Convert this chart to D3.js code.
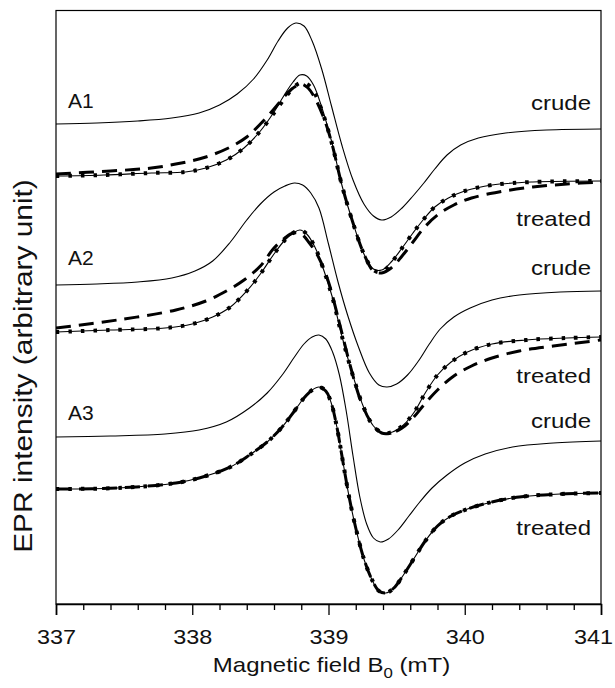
<!DOCTYPE html>
<html>
<head>
<meta charset="utf-8">
<script src="https://cdn.jsdelivr.net/npm/d3@7/dist/d3.min.js"></script>
<style>
  body { margin: 0; background: #fff; }
  text { font-family: "Liberation Sans", Arial, Helvetica, sans-serif; fill: #111; }
</style>
</head>
<body>
<svg id="chart" width="615" height="688"></svg>
<script>
// Field axis (mT)
const fieldDomain = [337, 341];
const majorTicks = [337, 338, 339, 340, 341];
const minorStep = 0.2;

// Spectra: [field (mT), intensity (arbitrary unit)]
const a1Crude = [[337.00,480],[337.30,481],[337.60,483],[337.85,486],[338.05,491],[338.20,499],[338.33,510],[338.45,525],[338.55,544],[338.63,563],[338.70,576],[338.76,581],[338.82,578],[338.88,563],[338.95,535],[339.02,499],[339.10,458],[339.18,424],[339.26,400],[339.33,388],[339.39,384],[339.46,387],[339.54,396],[339.62,408],[339.70,421],[339.78,435],[339.87,449],[339.97,459],[340.10,466],[340.30,471],[340.60,474],[341.00,475]];
const a1Treated = [[337.00,428],[337.35,429],[337.70,431],[337.95,432],[338.10,436],[338.25,444],[338.38,456],[338.50,473],[338.60,492],[338.68,510],[338.74,522],[338.79,529],[338.84,528],[338.89,519],[338.95,497],[339.02,464],[339.10,418],[339.18,381],[339.26,350],[339.33,335],[339.39,334],[339.46,342],[339.54,356],[339.62,371],[339.70,385],[339.78,397],[339.88,406],[340.00,413],[340.20,419],[340.50,422],[341.00,423]];
const a1TreatedDotted = [[337.00,428],[337.35,429],[337.70,431],[337.95,432],[338.10,436],[338.25,444],[338.38,456],[338.50,473],[338.60,491],[338.68,506],[338.74,516],[338.79,521],[338.84,520],[338.89,513],[338.95,494],[339.02,463],[339.10,418],[339.18,381],[339.26,350],[339.33,334],[339.39,332],[339.46,341],[339.54,356],[339.62,371],[339.70,385],[339.78,397],[339.88,406],[340.00,413],[340.20,419],[340.50,422],[341.00,423]];
const a1TreatedDashed = [[337.00,430],[337.40,433],[337.70,436],[337.92,441],[338.10,447],[338.28,457],[338.40,467],[338.50,480],[338.60,495],[338.68,508],[338.74,516],[338.80,520],[338.85,516],[338.90,506],[338.96,488],[339.02,463],[339.10,418],[339.18,381],[339.26,350],[339.33,333],[339.39,331],[339.46,336],[339.54,348],[339.62,362],[339.70,376],[339.80,389],[339.92,399],[340.05,406],[340.25,412],[340.50,417],[340.75,420],[341.00,422]];

const a2Crude = [[337.00,319],[337.30,320],[337.60,322],[337.85,326],[338.02,333],[338.15,343],[338.28,362],[338.40,384],[338.50,400],[338.60,412],[338.68,418],[338.75,421],[338.81,419],[338.87,411],[338.93,396],[339.00,360],[339.07,322],[339.14,289],[339.22,257],[339.30,231],[339.37,219],[339.43,217],[339.50,220],[339.58,229],[339.66,243],[339.74,260],[339.82,275],[339.92,287],[340.04,296],[340.20,304],[340.40,309],[340.70,312],[341.00,313]];
const a2Treated = [[337.00,272],[337.40,274],[337.80,276],[338.00,280],[338.15,287],[338.28,297],[338.40,313],[338.50,330],[338.60,350],[338.68,364],[338.74,371],[338.79,374],[338.84,370],[338.90,357],[338.96,336],[339.03,306],[339.10,267],[339.18,228],[339.26,196],[339.33,178],[339.40,171],[339.47,172],[339.55,179],[339.63,192],[339.71,211],[339.80,229],[339.90,242],[340.02,252],[340.20,260],[340.45,264],[340.75,266],[341.00,267]];
const a2TreatedDotted = a2Treated;
const a2TreatedDashed = [[337.00,276],[337.45,284],[337.88,294],[338.10,303],[338.25,313],[338.38,324],[338.50,338],[338.60,356],[338.68,366],[338.74,371],[338.80,370],[338.86,361],[338.93,346],[339.00,322],[339.08,281],[339.16,238],[339.24,202],[339.32,180],[339.39,171],[339.46,171],[339.54,176],[339.62,186],[339.70,199],[339.80,214],[339.92,228],[340.05,238],[340.20,246],[340.40,253],[340.65,258],[341.00,264]];

const a3Crude = [[337.00,167],[337.40,168],[337.80,170],[338.05,174],[338.25,182],[338.42,196],[338.55,211],[338.66,229],[338.75,247],[338.82,260],[338.88,267],[338.93,269],[338.98,265],[339.03,252],[339.08,229],[339.13,193],[339.18,148],[339.23,107],[339.28,80],[339.33,66],[339.38,62],[339.44,65],[339.51,74],[339.59,88],[339.67,102],[339.76,116],[339.87,129],[340.00,141],[340.15,150],[340.35,157],[340.65,161],[341.00,163]];
const a3Treated = [[337.00,115],[337.45,116],[337.88,121],[338.10,128],[338.28,137],[338.42,149],[338.55,162],[338.66,177],[338.75,193],[338.82,206],[338.88,214],[338.93,217],[338.98,213],[339.02,201],[339.06,178],[339.10,147],[339.15,108],[339.20,76],[339.26,45],[339.32,24],[339.37,13],[339.42,11],[339.48,16],[339.55,29],[339.63,46],[339.71,63],[339.80,78],[339.90,88],[340.02,95],[340.20,102],[340.40,107],[340.70,110],[341.00,111]];
const a3TreatedDotted = a3Treated;
const a3TreatedDashed = a3Treated;

// Sample labels: [name, intensity at text baseline]
const sampleLabels = [["A1",496],["A2",339],["A3",184]];
const stateLabels = [["crude",494],["treated",378],["crude",329],["treated",221],["crude",176],["treated",69]];

const intensityDomain = [0, 593.5];

const margin = { left: 56, right: 14, top: 10.5, bottom: 84 };
const W = 615, H = 688;
const plotW = W - margin.left - margin.right;
const plotH = H - margin.top - margin.bottom;

const svg = d3.select("#chart");
const g = svg.append("g").attr("transform", `translate(${margin.left},${margin.top})`);

const x = d3.scaleLinear().domain(fieldDomain).range([0, plotW]);
const y = d3.scaleLinear().domain(intensityDomain).range([plotH, 0]);

const line = d3.line().x(d => x(d[0])).y(d => y(d[1])).curve(d3.curveCatmullRom.alpha(0.5));

const series = [
  { data: a1Crude, style: "thin" },
  { data: a1Treated, style: "thin" },
  { data: a1TreatedDotted, style: "dot" },
  { data: a1TreatedDashed, style: "dash" },
  { data: a2Crude, style: "thin" },
  { data: a2Treated, style: "thin" },
  { data: a2TreatedDotted, style: "dot" },
  { data: a2TreatedDashed, style: "dash" },
  { data: a3Crude, style: "thin" },
  { data: a3Treated, style: "thin" },
  { data: a3TreatedDotted, style: "dot" },
  { data: a3TreatedDashed, style: "dash" }
];

const styles = {
  thin: { w: 1.1, dash: null },
  dot:  { w: 4, dash: "3.5,9" },
  dash: { w: 3.0, dash: "15,8" }
};

g.append("defs").append("clipPath").attr("id", "plotClip")
  .append("rect").attr("width", plotW).attr("height", plotH);

const curves = g.append("g").attr("clip-path", "url(#plotClip)");
series.forEach(s => {
  const st = styles[s.style];
  curves.append("path")
    .datum(s.data)
    .attr("d", line)
    .attr("fill", "none")
    .attr("stroke", "#000")
    .attr("stroke-width", st.w)
    .attr("stroke-dasharray", st.dash);
});

// Frame
g.append("rect").attr("width", plotW).attr("height", plotH)
  .attr("fill", "none").attr("stroke", "#000").attr("stroke-width", 1.2);

// Bottom axis with major and minor ticks
const minorTicks = d3.range(fieldDomain[0], fieldDomain[1] + 1e-9, minorStep)
  .filter(v => !majorTicks.some(m => Math.abs(m - v) < 1e-6));
const axisG = g.append("g").attr("transform", `translate(0,${plotH})`);
axisG.call(d3.axisBottom(x).tickValues(minorTicks).tickSize(6).tickFormat(""))
  .call(a => a.select(".domain").remove());
const majorAxis = g.append("g").attr("transform", `translate(0,${plotH})`);
majorAxis.call(d3.axisBottom(x).tickValues(majorTicks).tickSize(11).tickFormat(d3.format("d")))
  .call(a => a.select(".domain").attr("stroke-width", 1.6));
g.selectAll(".tick line").attr("stroke", "#000").attr("stroke-width", 1.3);
majorAxis.selectAll(".tick text")
  .attr("font-size", 20)
  .attr("font-family", "Liberation Sans, Arial, sans-serif")
  .attr("fill", "#111")
  .attr("y", 0)
  .attr("dy", 0)
  .attr("transform", (d, i) => `translate(${i === majorTicks.length - 1 ? -8 : 0},40) scale(1.17,1)`);

// Axis titles
const xt = svg.append("text")
  .attr("transform", `translate(${margin.left + plotW / 2 + 3},${672}) scale(1.2,1)`)
  .attr("text-anchor", "middle")
  .attr("font-size", 20);
xt.append("tspan").text("Magnetic field B");
xt.append("tspan").attr("font-size", 14).attr("dy", 6).text("0");
xt.append("tspan").attr("dy", -6).text(" (mT)");

svg.append("text")
  .attr("transform", `translate(32,366) rotate(-90) scale(1.15,1)`)
  .attr("text-anchor", "middle")
  .attr("font-size", 26)
  .text("EPR intensity (arbitrary unit)");

// Curve labels
sampleLabels.forEach(([name, v]) => {
  g.append("text")
    .attr("transform", `translate(${12},${y(v)})`)
    .attr("font-size", 21)
    .text(name);
});
stateLabels.forEach(([name, v]) => {
  g.append("text")
    .attr("transform", `translate(${plotW - 10},${y(v)}) scale(1.2,1)`)
    .attr("text-anchor", "end")
    .attr("font-size", 20)
    .text(name);
});
</script>
</body>
</html>
